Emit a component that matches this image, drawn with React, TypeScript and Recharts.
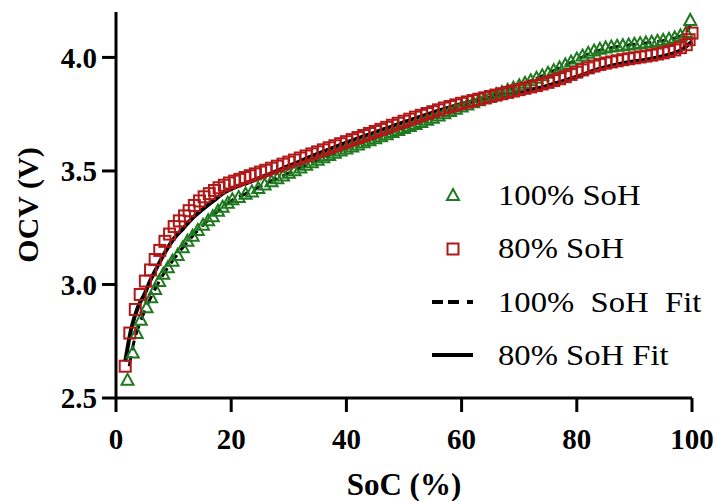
import React from "react";
import { ComposedChart, Scatter, Line, XAxis, YAxis } from "recharts";

// 100% SoH measured points (triangles)
const soc100 = [
  2.0, 2.9, 3.6, 4.3, 5.3, 6.1, 6.8, 7.5, 8.2, 9.0, 9.8, 10.7, 11.6, 12.4, 13.3,
  14.2, 15.1, 16.0, 16.8, 17.7, 18.5, 19.4, 20.2, 21.3, 22.5, 23.6, 24.7, 25.8,
  27, 28, 29, 30, 31, 32, 33, 34, 35, 36, 37, 38, 39, 40, 41, 42, 43, 44, 45, 46,
  47, 48, 49, 50, 51, 52, 53, 54, 55, 56, 57, 58, 59, 60, 61, 62, 63, 64, 65, 66,
  67, 68, 69, 70, 71, 72, 73, 74, 75, 76, 77, 78, 79, 80, 81, 82, 83, 84, 85, 86,
  87, 88, 89, 90, 91, 92, 93, 94, 95, 96, 97, 98, 99, 99.7,
];
const ocv100 = [
  2.58, 2.7, 2.786, 2.845, 2.9, 2.944, 2.98, 3.015, 3.047, 3.076, 3.105, 3.13,
  3.164, 3.193, 3.215, 3.24, 3.263, 3.283, 3.3, 3.325, 3.342, 3.36, 3.375, 3.385,
  3.4, 3.41, 3.425, 3.44,
  3.455, 3.468, 3.48, 3.492, 3.503, 3.515, 3.527, 3.538, 3.549, 3.56, 3.57, 3.58,
  3.59, 3.599, 3.608, 3.617, 3.626, 3.635, 3.644, 3.653, 3.662, 3.671, 3.68,
  3.689, 3.698, 3.707, 3.716, 3.725, 3.734, 3.744, 3.754, 3.764, 3.774, 3.784,
  3.793, 3.802, 3.811, 3.82, 3.829, 3.838, 3.847, 3.857, 3.867, 3.877, 3.888,
  3.899, 3.91, 3.921, 3.932, 3.944, 3.956, 3.969, 3.982, 3.995, 4.008, 4.02,
  4.03, 4.038, 4.044, 4.048, 4.051, 4.054, 4.057, 4.06, 4.063, 4.066, 4.069,
  4.073, 4.077, 4.082, 4.088, 4.097, 4.112, 4.165,
];

// 80% SoH measured points (squares)
const soc80 = [
  1.6, 2.4, 3.35, 4.2, 5.1, 6.0, 6.8, 7.6, 8.5, 9.3, 10.1, 11.0, 11.9, 12.7, 13.6,
  14.5, 15.3, 16.2, 17.1, 17.9, 18.8, 19.7, 20.6, 21.5, 22.4, 23.3, 24.2, 25.1,
  26, 27, 28, 29, 30, 31, 32, 33, 34, 35, 36, 37, 38, 39, 40, 41, 42, 43, 44, 45,
  46, 47, 48, 49, 50, 51, 52, 53, 54, 55, 56, 57, 58, 59, 60, 61, 62, 63, 64, 65,
  66, 67, 68, 69, 70, 71, 72, 73, 74, 75, 76, 77, 78, 79, 80, 81, 82, 83, 84, 85,
  86, 87, 88, 89, 90, 91, 92, 93, 94, 95, 96, 97, 98, 99, 99.5, 100,
];
const ocv80 = [
  2.64, 2.786, 2.89, 2.956, 3.015, 3.064, 3.11, 3.15, 3.19, 3.222, 3.255, 3.28,
  3.302, 3.325, 3.348, 3.368, 3.386, 3.4, 3.414, 3.426, 3.437, 3.447, 3.455,
  3.463, 3.471, 3.479, 3.487, 3.495,
  3.503, 3.512, 3.521, 3.53, 3.539, 3.548, 3.557, 3.566, 3.575, 3.584, 3.593,
  3.602, 3.611, 3.62, 3.629, 3.638, 3.647, 3.656, 3.665, 3.674, 3.683, 3.692,
  3.701, 3.71, 3.719, 3.728, 3.737, 3.745, 3.753, 3.761, 3.769, 3.777, 3.784,
  3.791, 3.798, 3.804, 3.81, 3.816, 3.822, 3.828, 3.834, 3.84, 3.846, 3.852,
  3.858, 3.864, 3.87, 3.876, 3.883, 3.89, 3.898, 3.906, 3.915, 3.925, 3.935,
  3.945, 3.954, 3.962, 3.969, 3.975, 3.98, 3.985, 3.99, 3.994, 3.998, 4.002,
  4.006, 4.01, 4.015, 4.02, 4.026, 4.033, 4.043, 4.056, 4.078, 4.107,
];

// fitted curves
const fitSoc100 = [
  2.3, 3, 4, 5, 6, 7, 8, 10, 12, 14, 16, 18, 20, 23, 26, 30, 35, 40, 45, 50, 55,
  60, 65, 70, 75, 80, 83, 86, 90, 94, 97, 99, 99.7,
];
const fitOcv100 = [
  2.64, 2.735, 2.82, 2.885, 2.94, 2.99, 3.035, 3.11, 3.175, 3.232, 3.283, 3.33,
  3.368, 3.405, 3.445, 3.49, 3.548, 3.6, 3.645, 3.69, 3.735, 3.783, 3.83, 3.877,
  3.93, 3.99, 4.025, 4.043, 4.058, 4.07, 4.085, 4.11, 4.14,
];
const fitSoc80 = [
  1.6, 2.6, 3.8, 5, 6, 7, 8.7, 10, 11.6, 13, 15, 17, 18.5, 20, 23, 26, 30, 35, 40,
  45, 50, 55, 60, 65, 70, 75, 80, 84, 88, 92, 96, 98, 100,
];
const fitOcv80 = [
  2.66, 2.8, 2.9, 2.96, 3.02, 3.07, 3.15, 3.2, 3.245, 3.285, 3.33, 3.37, 3.4,
  3.42, 3.45, 3.48, 3.522, 3.575, 3.625, 3.67, 3.715, 3.757, 3.795, 3.822, 3.848,
  3.876, 3.915, 3.95, 3.975, 3.99, 4.012, 4.03, 4.07,
];

const xTicks = [0, 20, 40, 60, 80, 100];
const yTicks = [2.5, 3.0, 3.5, 4.0];
const legendNames = ["100% SoH", "80% SoH", "100%  SoH  Fit", "80% SoH Fit"];

const GREEN = "#1f7a1f";
const RED = "#b01818";
const FONT = "'Liberation Serif', 'Times New Roman', serif";

const zip = (xs: number[], ys: number[]) =>
  xs.map((x, i) => ({ soc: x, ocv: ys[i] }));

const tri100 = zip(soc100, ocv100);
const sq80 = zip(soc80, ocv80);
const fit100 = zip(fitSoc100, fitOcv100);
const fit80 = zip(fitSoc80, fitOcv80);

const TriangleShape = (props: any) => {
  const { cx, cy } = props;
  if (cx == null || cy == null) return null;
  return (
    <polygon
      points={`${cx},${cy - 6} ${cx + 6},${cy + 5} ${cx - 6},${cy + 5}`}
      fill="none"
      stroke={GREEN}
      strokeWidth={2}
    />
  );
};

const SquareShape = (props: any) => {
  const { cx, cy } = props;
  if (cx == null || cy == null) return null;
  return (
    <rect
      x={cx - 5.5}
      y={cy - 5.5}
      width={11}
      height={11}
      fill="none"
      stroke={RED}
      strokeWidth={2}
    />
  );
};

const tickStyle = {
  fill: "#000",
  fontSize: 29,
  fontWeight: 700,
  fontFamily: FONT,
};

export default function App() {
  return (
    <div style={{ position: "absolute", left: 0, top: 0, width: 717, height: 501 }}>
      <ComposedChart
        width={717}
        height={501}
        margin={{ top: 12, right: 25, bottom: 0, left: 0 }}
      >
        <XAxis
          dataKey="soc"
          type="number"
          domain={[0, 100]}
          ticks={xTicks}
          height={103}
          tickSize={14}
          tickMargin={16}
          axisLine={{ stroke: "#000", strokeWidth: 3 }}
          tickLine={{ stroke: "#000", strokeWidth: 3 }}
          tick={tickStyle}
          label={{
            content: () => (
              <text
                x={404}
                y={495}
                textAnchor="middle"
                fontFamily={FONT}
                fontSize={31}
                fontWeight={700}
                fill="#000"
              >
                SoC (%)
              </text>
            ),
          }}
        />
        <YAxis
          dataKey="ocv"
          type="number"
          domain={[2.5, 4.2]}
          ticks={yTicks}
          width={116}
          tickSize={14}
          tickMargin={5}
          tickFormatter={(v: number) => v.toFixed(1)}
          axisLine={{ stroke: "#000", strokeWidth: 3 }}
          tickLine={{ stroke: "#000", strokeWidth: 3 }}
          tick={tickStyle}
          label={{
            content: () => (
              <text
                x={27}
                y={205}
                transform="rotate(-90, 27, 205)"
                textAnchor="middle"
                dominantBaseline="central"
                fontFamily={FONT}
                fontSize={30}
                fontWeight={700}
                fill="#000"
              >
                OCV (V)
              </text>
            ),
          }}
        />
        <Scatter
          name={legendNames[0]}
          data={tri100}
          dataKey="ocv"
          shape={TriangleShape}
          isAnimationActive={false}
        />
        <Scatter
          name={legendNames[1]}
          data={sq80}
          dataKey="ocv"
          shape={SquareShape}
          isAnimationActive={false}
        />
        <Line
          name={legendNames[2]}
          data={fit100}
          dataKey="ocv"
          type="monotone"
          stroke="#000"
          strokeWidth={3}
          strokeDasharray="10 6"
          dot={false}
          activeDot={false}
          isAnimationActive={false}
        />
        <Line
          name={legendNames[3]}
          data={fit80}
          dataKey="ocv"
          type="monotone"
          stroke="#000"
          strokeWidth={4}
          dot={false}
          activeDot={false}
          isAnimationActive={false}
        />
      </ComposedChart>
      <svg
        width={717}
        height={501}
        style={{ position: "absolute", left: 0, top: 0, pointerEvents: "none" }}
      >
        <polygon
          points="453,189 459,200 447,200"
          fill="none"
          stroke={GREEN}
          strokeWidth={2}
        />
        <rect x={447.5} y={243.5} width={11} height={11} fill="none" stroke={RED} strokeWidth={2} />
        <line
          x1={432}
          y1={302}
          x2={473}
          y2={302}
          stroke="#000"
          strokeWidth={4}
          strokeDasharray="11 5 11 8 6 20"
        />
        <line x1={432} y1={355} x2={473} y2={355} stroke="#000" strokeWidth={4} />
        {legendNames.map((n, i) => (
          <text
            key={n}
            transform={`translate(498, ${205 + i * 53.3}) scale(1.09, 1)`}
            fontFamily={FONT}
            fontSize={30}
            fill="#000"
            style={{ whiteSpace: "pre" }}
          >
            {n}
          </text>
        ))}
      </svg>
    </div>
  );
}
